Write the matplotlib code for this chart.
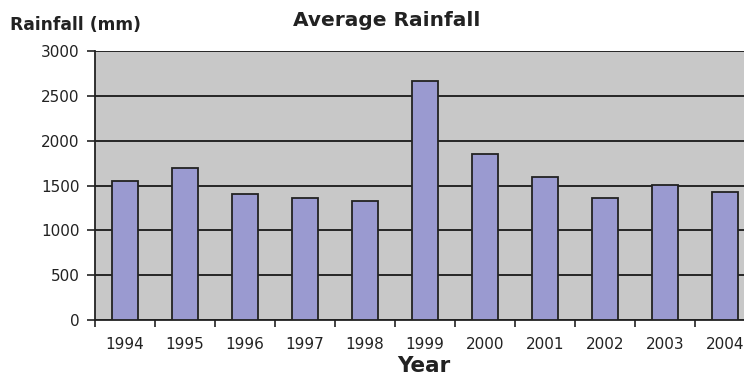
import matplotlib.pyplot as plt
import numpy as np

years = ["1994", "1995", "1996", "1997", "1998", "1999",
         "2000", "2001", "2002", "2003", "2004"]
rainfall = [1550, 1690, 1400, 1360, 1330, 2660, 1850, 1600, 1360, 1510, 1430]

plt.rcParams['font.family'] = ['DejaVu Sans']

fig = plt.figure(figsize=(7.44, 3.76), dpi=100)
ax = fig.add_axes([95 / 744, 1 - 320 / 376, 660 / 744, 269 / 376])

ax.set_facecolor('#c8c8c8')
x = np.arange(len(years))
ax.bar(x, rainfall, width=0.42, color='#9a9ad0', edgecolor='#222222',
       linewidth=1.3, zorder=3)

ax.set_ylim(0, 3000)
ax.set_xlim(-0.5, len(years) - 0.5)
ax.set_yticks(range(0, 3001, 500))
ax.yaxis.grid(True, color='#1a1a1a', linewidth=1.3, zorder=1)
ax.set_axisbelow(True)

# year labels centred on bars, tick marks between categories
ax.set_xticks(x)
ax.set_xticklabels(years)
ax.tick_params(axis='x', which='major', length=0, pad=12, labelsize=11,
               labelcolor='#222222')
ax.set_xticks(np.arange(-0.5, len(years), 1), minor=True)
ax.tick_params(axis='x', which='minor', length=5, width=1.2, color='#222222')
ax.tick_params(axis='y', length=6, width=1.2, color='#222222', labelsize=11,
               pad=5, labelcolor='#222222')

for side in ['top', 'right']:
    ax.spines[side].set_visible(False)
for side in ['left', 'bottom']:
    ax.spines[side].set_color('#222222')
    ax.spines[side].set_linewidth(1.3)

fig.text(387 / 744, 1 - 20 / 376, "Average Rainfall", ha='center', va='center',
         fontsize=14.5, fontweight='bold', color='#222222')
fig.text(10 / 744, 1 - 25 / 376, "Rainfall (mm)", ha='left', va='center',
         fontsize=12.3, fontweight='bold', color='#222222')
fig.text(424 / 744, 1 - 366 / 376, "Year", ha='center', va='center',
         fontsize=15.5, fontweight='bold', color='#222222')

fig.savefig("out.png", dpi=100)
